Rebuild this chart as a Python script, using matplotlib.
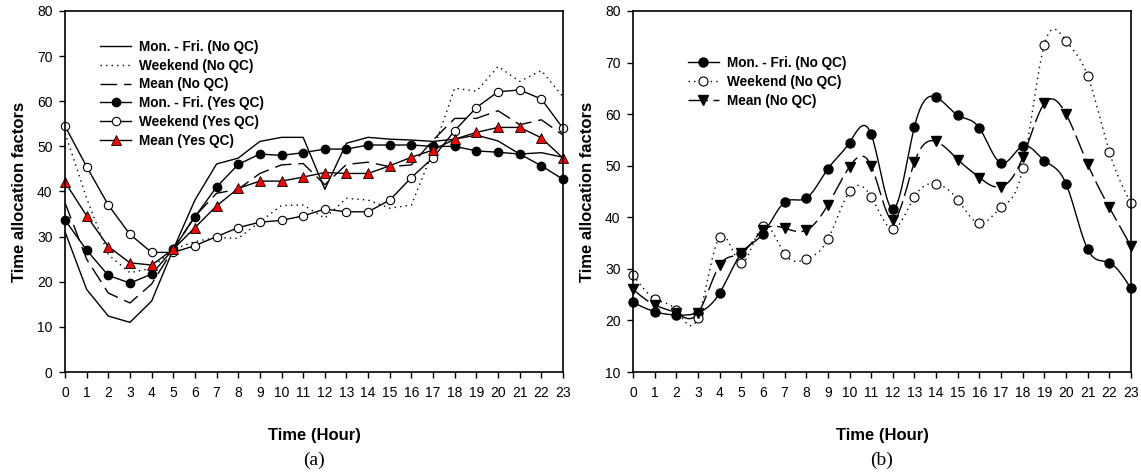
import matplotlib
matplotlib.use('Agg')
import matplotlib.pyplot as plt
import numpy as np

plt.rcParams['font.family'] = ['Liberation Sans', 'DejaVu Sans']
plt.rcParams['font.size'] = 10

hours = np.arange(24)

# panel (a): no QC lines, yes QC lines with markers
a_wd_noqc = [31.1, 18.3, 12.4, 11.0, 15.7, 27.2, 38.1, 46.1, 47.4, 51.1, 52.0, 52.0,
             40.5, 50.7, 52.0, 51.6, 51.4, 51.1, 51.6, 52.5, 51.2, 48.3, 48.6, 47.6]
a_we_noqc = [53.0, 38.5, 26.0, 22.0, 23.0, 27.2, 28.9, 29.8, 29.6, 33.3, 36.9, 37.0,
             34.1, 38.5, 38.1, 36.3, 37.0, 49.0, 62.9, 62.2, 67.7, 64.4, 66.8, 61.0]
a_mean_noqc = [37.5, 25.0, 17.5, 15.3, 19.5, 27.2, 34.5, 39.6, 40.5, 44.0, 45.9, 46.2,
               41.5, 46.0, 46.5, 45.5, 45.9, 51.4, 56.2, 56.2, 57.9, 54.8, 55.9, 52.5]
a_wd_qc = [33.7, 27.0, 21.4, 19.7, 21.7, 27.2, 34.4, 41.0, 46.0, 48.3, 48.0, 48.6,
           49.4, 49.4, 50.3, 50.3, 50.3, 50.0, 50.0, 49.0, 48.7, 48.3, 45.7, 42.7]
a_we_qc = [54.5, 45.5, 37.0, 30.5, 26.5, 26.5, 28.0, 30.0, 32.0, 33.2, 33.6, 34.6,
           36.1, 35.5, 35.5, 38.1, 43.1, 47.5, 53.5, 58.6, 62.1, 62.5, 60.5, 54.0]
a_mean_qc = [42.1, 34.6, 27.8, 24.2, 23.7, 27.2, 32.0, 36.8, 40.7, 42.3, 42.3, 43.2,
             44.2, 44.0, 44.0, 45.7, 47.6, 49.2, 51.6, 53.1, 54.2, 54.2, 51.9, 47.4]

# panel (b): no QC, smoothed
b_wd = [23.5, 21.7, 21.05, 21.5, 25.3, 33.0, 36.8, 42.9, 43.7, 49.4, 54.5, 56.1,
        41.6, 57.6, 63.3, 59.8, 57.3, 50.5, 53.8, 51.0, 46.5, 33.8, 31.2, 26.2]
b_we = [28.8, 24.2, 22.0, 20.5, 36.2, 31.2, 38.4, 32.9, 31.9, 35.7, 45.0, 44.0,
        37.7, 44.0, 46.5, 43.4, 38.8, 41.9, 49.5, 73.5, 74.2, 67.4, 52.7, 42.7]
b_mean = [26.0, 23.0, 21.4, 21.4, 30.7, 33.0, 37.5, 37.9, 37.5, 42.4, 49.8, 50.0,
          39.5, 50.7, 54.7, 51.2, 47.7, 45.9, 51.6, 62.1, 60.0, 50.3, 41.9, 34.4]


def spline(x, y, n=20):
    """Natural cubic spline through equally spaced points, returns fine curve."""
    x = np.asarray(x, float)
    y = np.asarray(y, float)
    k = len(x)
    h = x[1] - x[0]
    A = np.zeros((k, k))
    r = np.zeros(k)
    A[0, 0] = A[-1, -1] = 1
    for i in range(1, k - 1):
        A[i, i - 1:i + 2] = [1, 4, 1]
        r[i] = 6 * (y[i + 1] - 2 * y[i] + y[i - 1]) / h ** 2
    M = np.linalg.solve(A, r)
    xs, ys = [], []
    for i in range(k - 1):
        t = np.linspace(x[i], x[i + 1], n, endpoint=False)
        a = x[i + 1] - t
        b = t - x[i]
        s = (M[i] * a ** 3 + M[i + 1] * b ** 3) / (6 * h) \
            + (y[i] / h - M[i] * h / 6) * a + (y[i + 1] / h - M[i + 1] * h / 6) * b
        xs.append(t)
        ys.append(s)
    xs.append([x[-1]])
    ys.append([y[-1]])
    return np.concatenate(xs), np.concatenate(ys), list(range(0, (k - 1) * n + 1, n))


fig = plt.figure(figsize=(11.41, 4.74), dpi=100)
ax1 = fig.add_axes([65 / 1141, 102 / 474, 498 / 1141, 361 / 474])
ax2 = fig.add_axes([633 / 1141, 102 / 474, 498 / 1141, 361 / 474])

lw = 1.0
ms = 6
ax1.plot(hours, a_wd_noqc, color='black', lw=lw, label='Mon. - Fri. (No QC)')
ax1.plot(hours, a_we_noqc, color='black', lw=lw, ls=(0, (1, 3)), label='Weekend (No QC)')
ax1.plot(hours, a_mean_noqc, color='black', lw=lw, ls=(0, (12, 5)), label='Mean (No QC)')
ax1.plot(hours, a_wd_qc, color='black', lw=lw, marker='o', ms=ms, mfc='black', mec='black',
         label='Mon. - Fri. (Yes QC)', clip_on=False)
ax1.plot(hours, a_we_qc, color='black', lw=lw, marker='o', ms=ms, mfc='white', mec='black',
         mew=0.8, label='Weekend (Yes QC)', clip_on=False)
ax1.plot(hours, a_mean_qc, color='black', lw=lw, marker='^', ms=ms + 0.5, mfc='red', mec='black',
         mew=0.6, label='Mean (Yes QC)', clip_on=False)

x, y, idx = spline(hours, b_wd)
ax2.plot(x, y, color='black', lw=lw, marker='o', ms=ms + 0.5, markevery=idx, mfc='black',
         label='Mon. - Fri. (No QC)', clip_on=False)
x, y, idx = spline(hours, b_we)
ax2.plot(x, y, color='black', lw=lw, ls=(0, (1, 3)), marker='o', ms=ms + 0.5, markevery=idx,
         mfc='white', mec='black', mew=0.8, label='Weekend (No QC)', clip_on=False)
x, y, idx = spline(hours, b_mean)
ax2.plot(x, y, color='black', lw=lw, ls=(0, (14, 4)), marker='v', ms=ms + 0.5, markevery=idx,
         mfc='black', label='Mean (No QC)', clip_on=False)

for ax, ylo, lab, lx in [(ax1, 0, '(a)', 314), (ax2, 10, '(b)', 882)]:
    ax.set_xlim(0, 23)
    ax.set_ylim(ylo, 80)
    ax.set_xticks(hours)
    ax.set_yticks(np.arange(ylo, 81, 10))
    ax.tick_params(direction='out', length=4, width=1, labelsize=10, top=False, right=False)
    ax.tick_params(axis='x', pad=6)
    ax.tick_params(axis='y', pad=5)
    for sp in ax.spines.values():
        sp.set_linewidth(1.2)
    ax.set_xlabel('Time (Hour)', fontsize=12, fontweight='bold', labelpad=20)
    ax.set_ylabel('Time allocation factors', fontsize=12, fontweight='bold', labelpad=7)
    fig.text(lx / 1141, 1 - 460 / 474, lab, ha='center', va='center', fontsize=14,
             family='Liberation Serif')

leg_kw = dict(frameon=False, handlelength=2.3, handletextpad=0.6,
              labelspacing=0.35, borderpad=0, borderaxespad=0, prop={'weight': 'bold', 'size': 9.8})
ax1.legend(loc='upper left', bbox_to_anchor=(0.07, 0.92), **leg_kw)
ax2.legend(loc='upper left', bbox_to_anchor=(0.11, 0.875), **leg_kw)

fig.savefig('out.png', dpi=100)
